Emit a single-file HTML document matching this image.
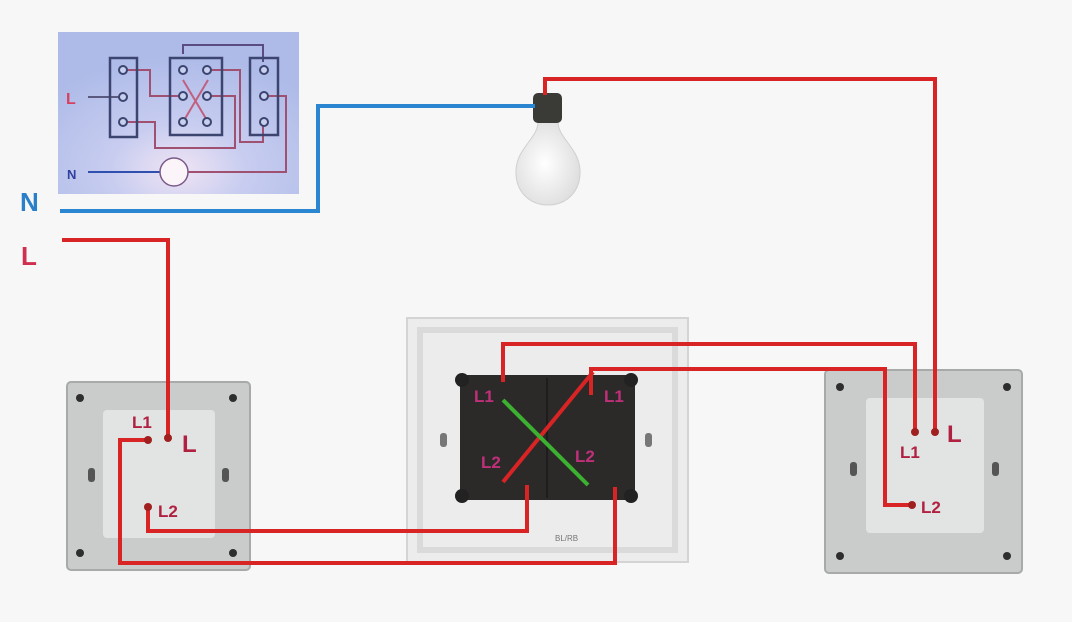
<!DOCTYPE html>
<html><head><meta charset="utf-8"><style>
html,body{margin:0;padding:0;background:#f7f7f7;}
svg{display:block;font-family:"Liberation Sans",sans-serif;}
</style></head><body>
<svg width="1072" height="622" viewBox="0 0 1072 622" xmlns="http://www.w3.org/2000/svg">
<defs>
<radialGradient id="sg" cx="0.5" cy="0.85" r="0.7"><stop offset="0" stop-color="#f0e4f4"/><stop offset="0.4" stop-color="#c8cdf0"/><stop offset="1" stop-color="#aebbe8"/></radialGradient>
<radialGradient id="bg" cx="0.45" cy="0.5" r="0.6"><stop offset="0" stop-color="#ffffff"/><stop offset="1" stop-color="#dcdcdc"/></radialGradient>
</defs>
<rect width="1072" height="622" fill="#f7f7f7"/>
<rect x="58" y="32" width="241" height="162" fill="url(#sg)"/>
<g fill="none" stroke-width="2">
<path d="M183 54 V45 H263 V62" stroke="#5a4c80"/>
<path d="M125 70 H150 V96 H183" stroke="#a05070"/>
<path d="M125 122 H155 V148 H235 V96 H208" stroke="#a05070"/>
<path d="M208 70 H240 V142 H263 V124" stroke="#a05070"/>
<path d="M263 96 H286 V172 H188" stroke="#a05070"/>
<path d="M183 122 L208 80 M183 80 L208 122" stroke="#c06080"/>
<path d="M88 97 H122" stroke="#5a5a80"/>
<path d="M88 172 H160" stroke="#3050b0"/>
</g>
<g fill="none" stroke="#3c4470" stroke-width="2.5">
<rect x="110" y="58" width="27" height="79"/>
<rect x="170" y="58" width="52" height="77"/>
<rect x="250" y="58" width="28" height="77"/>
</g>
<g fill="#c8d0f0" stroke="#3c4470" stroke-width="2">
<circle cx="123" cy="70" r="4"/><circle cx="123" cy="97" r="4"/><circle cx="123" cy="122" r="4"/>
<circle cx="183" cy="70" r="4"/><circle cx="183" cy="96" r="4"/><circle cx="183" cy="122" r="4"/>
<circle cx="207" cy="70" r="4"/><circle cx="207" cy="96" r="4"/><circle cx="207" cy="122" r="4"/>
<circle cx="264" cy="70" r="4"/><circle cx="264" cy="96" r="4"/><circle cx="264" cy="122" r="4"/>
</g>
<circle cx="174" cy="172" r="14" fill="#fbf4f8" stroke="#7a5a8a" stroke-width="1.5"/>
<text x="66" y="104" fill="#d84060" font-size="16" font-weight="bold">L</text>
<text x="67" y="179" fill="#3040a0" font-size="13" font-weight="bold">N</text>
<text x="20" y="211" fill="#2a7fc8" font-size="26" font-weight="bold">N</text>
<text x="21" y="265" fill="#d03050" font-size="26" font-weight="bold">L</text>
<rect x="67" y="382" width="183" height="188" rx="4" fill="#c9cccb" stroke="#a8aaa9" stroke-width="2"/>
<rect x="103" y="410" width="112" height="128" rx="4" fill="#e2e4e3"/>
<g fill="#2e2e2e"><circle cx="80" cy="398" r="4"/><circle cx="233" cy="398" r="4"/><circle cx="80" cy="553" r="4"/><circle cx="233" cy="553" r="4"/></g>
<rect x="88" y="468" width="7" height="14" rx="3" fill="#555"/><rect x="222" y="468" width="7" height="14" rx="3" fill="#555"/>
<rect x="825" y="370" width="197" height="203" rx="4" fill="#c9cccb" stroke="#a8aaa9" stroke-width="2"/>
<rect x="866" y="398" width="118" height="135" rx="4" fill="#e2e4e3"/>
<g fill="#2e2e2e"><circle cx="840" cy="387" r="4"/><circle cx="1007" cy="387" r="4"/><circle cx="840" cy="556" r="4"/><circle cx="1007" cy="556" r="4"/></g>
<rect x="850" y="462" width="7" height="14" rx="3" fill="#555"/><rect x="992" y="462" width="7" height="14" rx="3" fill="#555"/>
<rect x="407" y="318" width="281" height="244" fill="#ececec" stroke="#d4d4d4" stroke-width="2"/>
<rect x="420" y="330" width="255" height="220" fill="none" stroke="#dadada" stroke-width="6"/>
<rect x="460" y="375" width="175" height="125" rx="6" fill="#2c2929"/>
<line x1="547" y1="378" x2="547" y2="498" stroke="#1e1c1c" stroke-width="2"/>
<g fill="#222"><circle cx="462" cy="380" r="7"/><circle cx="631" cy="380" r="7"/><circle cx="462" cy="496" r="7"/><circle cx="631" cy="496" r="7"/></g>
<rect x="440" y="433" width="7" height="14" rx="3" fill="#777"/><rect x="645" y="433" width="7" height="14" rx="3" fill="#777"/>
<text x="555" y="541" fill="#777" font-size="8">BL/RB</text>
<g font-weight="bold" fill="#c0307a" font-size="17">
<text x="474" y="402">L1</text><text x="604" y="402">L1</text>
<text x="481" y="468">L2</text><text x="575" y="462">L2</text>
</g>
<path d="M538 122 C538 138 517 148 516 170 C515 192 530 205 548 205 C566 205 581 192 580 170 C579 148 558 138 558 122 Z" fill="url(#bg)" style="stroke:#d0d0d0"/>
<rect x="533" y="93" width="29" height="30" rx="5" fill="#3a3a36"/>
<g fill="none" stroke="#d82424" stroke-width="4">
<path d="M545 95 V79 H935 V432"/>
<path d="M62 240 H168 V438"/>
<path d="M503 382 V344 H915 V432"/>
<path d="M591 395 V369 H885 V505 H912"/>
<path d="M148 440 H120 V563 H615 V487"/>
<path d="M148 507 V531 H527 V485"/>
<path d="M503 482 L593 372"/>
</g>
<path d="M60 211 H318 V106 H535" fill="none" stroke="#2a86d0" stroke-width="4"/>
<path d="M503 400 L588 485" stroke="#3cb030" stroke-width="4"/>
<g fill="#a02020"><circle cx="168" cy="438" r="4"/><circle cx="148" cy="440" r="4"/><circle cx="148" cy="507" r="4"/><circle cx="915" cy="432" r="4"/><circle cx="935" cy="432" r="4"/><circle cx="912" cy="505" r="4"/></g>
<g font-weight="bold" fill="#b02040">
<text x="132" y="428" font-size="17">L1</text><text x="182" y="452" font-size="24">L</text>
<text x="158" y="517" font-size="17">L2</text>
<text x="900" y="458" font-size="17">L1</text><text x="947" y="442" font-size="24">L</text>
<text x="921" y="513" font-size="17">L2</text>
</g>
</svg>
</body></html>
